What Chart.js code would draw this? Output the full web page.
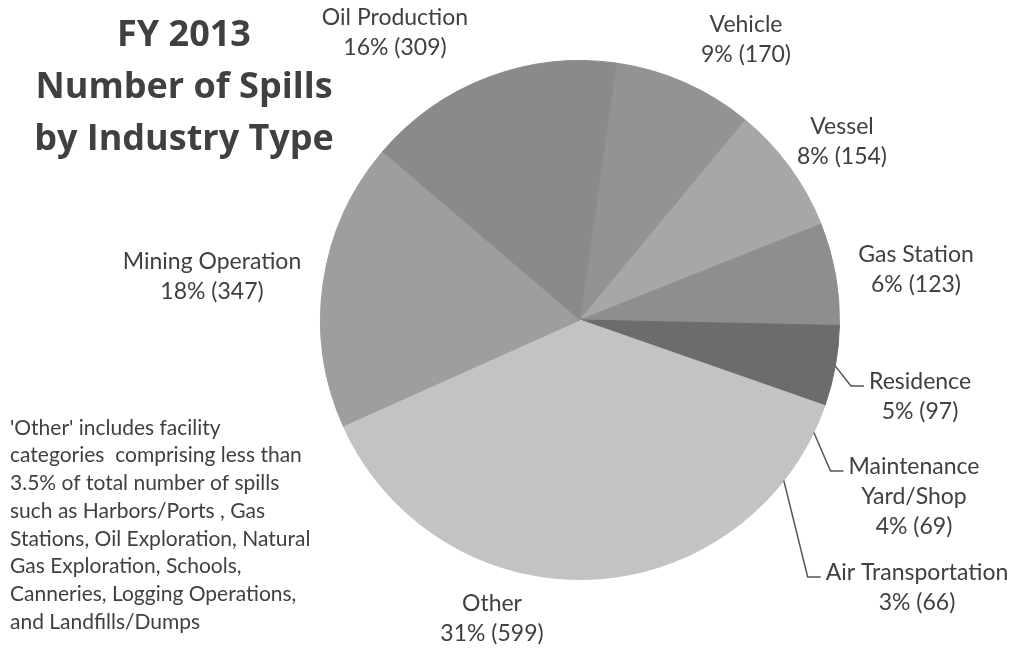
<!DOCTYPE html>
<html>
<head>
<meta charset="utf-8">
<title>FY 2013 Number of Spills by Industry Type</title>
<script src="https://cdn.jsdelivr.net/npm/chart.js@4/dist/chart.umd.min.js"></script>
<style>
  html, body { margin: 0; padding: 0; background: #ffffff; }
  #wrap { width: 1015px; height: 649px; }
</style>
</head>
<body>
<div id="wrap"><canvas id="chart" width="1015" height="649"></canvas></div>
<script>
// spills per industry, clockwise from the top
const categories = ["Vehicle", "Vessel", "Gas Station", "Residence", "Maintenance Yard/Shop",
  "Air Transportation", "Other", "Mining Operation", "Oil Production"];
const spills = [170, 154, 123, 97, 69, 66, 599, 347, 309];

const titleLines = ["FY 2013", "Number of Spills", "by Industry Type"];
const noteLines = [
  "'Other' includes facility",
  "categories  comprising less than",
  "3.5% of total number of spills",
  "such as Harbors/Ports , Gas",
  "Stations, Oil Exploration, Natural",
  "Gas Exploration, Schools,",
  "Canneries, Logging Operations,",
  "and Landfills/Dumps"
];

// slice fills (grayscale)
const sliceColors = ["#939393", "#a7a7a7", "#8e8e8e", "#6c6c6c", "#c3c3c3",
  "#c3c3c3", "#c3c3c3", "#9e9e9e", "#8a8a8a"];

// where each slice label sits: text centre x, first line y, optional leader line
const labelPlaces = [
  { x: 746, y: 25, lines: ["Vehicle"] },
  { x: 842, y: 127, lines: ["Vessel"] },
  { x: 916, y: 255, lines: ["Gas Station"] },
  { x: 920, y: 382, lines: ["Residence"], leader: true },
  { x: 914, y: 467, lines: ["Maintenance", "Yard/Shop"], leader: true },
  { x: 917, y: 573, lines: ["Air Transportation"], leader: true },
  { x: 492, y: 604, lines: ["Other"] },
  { x: 212, y: 262, lines: ["Mining Operation"] },
  { x: 395, y: 18, lines: ["Oil Production"] }
];

const textColor = "#404040";
const labelFont = "23px Lato";
const lineGap = 30;

const total = spills.reduce((a, b) => a + b, 0);

const labelPlugin = {
  id: "spillLabels",
  afterDraw(chart) {
    const ctx = chart.ctx;
    const arcs = chart.getDatasetMeta(0).data;
    ctx.save();
    ctx.fillStyle = textColor;
    ctx.textBaseline = "middle";

    // title block
    ctx.font = "bold 36px 'Open Sans'";
    ctx.textAlign = "center";
    titleLines.forEach((t, i) => ctx.fillText(t, 184, 36 + i * 52));

    // footnote about the Other slice
    ctx.font = "21px Lato";
    ctx.textAlign = "left";
    noteLines.forEach((t, i) => ctx.fillText(t, 10, 428 + i * 27.7));

    // slice labels
    ctx.font = labelFont;
    ctx.textAlign = "center";
    arcs.forEach((arc, i) => {
      const place = labelPlaces[i];
      const pct = Math.round(spills[i] / total * 100);
      const lines = place.lines.concat([pct + "% (" + spills[i] + ")"]);
      lines.forEach((t, j) => ctx.fillText(t, place.x, place.y + j * lineGap));

      if (place.leader) {
        const mid = (arc.startAngle + arc.endAngle) / 2;
        const sx = arc.x + Math.cos(mid) * arc.outerRadius;
        const sy = arc.y + Math.sin(mid) * arc.outerRadius;
        const left = place.x - ctx.measureText(lines[0]).width / 2;
        const ly = place.y + 4;
        ctx.beginPath();
        ctx.strokeStyle = "#555555";
        ctx.lineWidth = 1.5;
        ctx.moveTo(sx, sy);
        ctx.lineTo(left - 18, ly);
        ctx.lineTo(left - 5, ly);
        ctx.stroke();
      }
    });
    ctx.restore();
  }
};

new Chart(document.getElementById("chart"), {
  type: "pie",
  data: {
    labels: categories,
    datasets: [{
      data: spills,
      backgroundColor: sliceColors,
      borderColor: sliceColors,
      borderWidth: 1
    }]
  },
  options: {
    responsive: false,
    devicePixelRatio: 1,
    animation: false,
    rotation: 8,
    layout: { padding: { left: 320, right: 175, top: 60, bottom: 69 } },
    plugins: {
      legend: { display: false },
      tooltip: { enabled: false }
    }
  },
  plugins: [labelPlugin]
});
</script>
</body>
</html>
